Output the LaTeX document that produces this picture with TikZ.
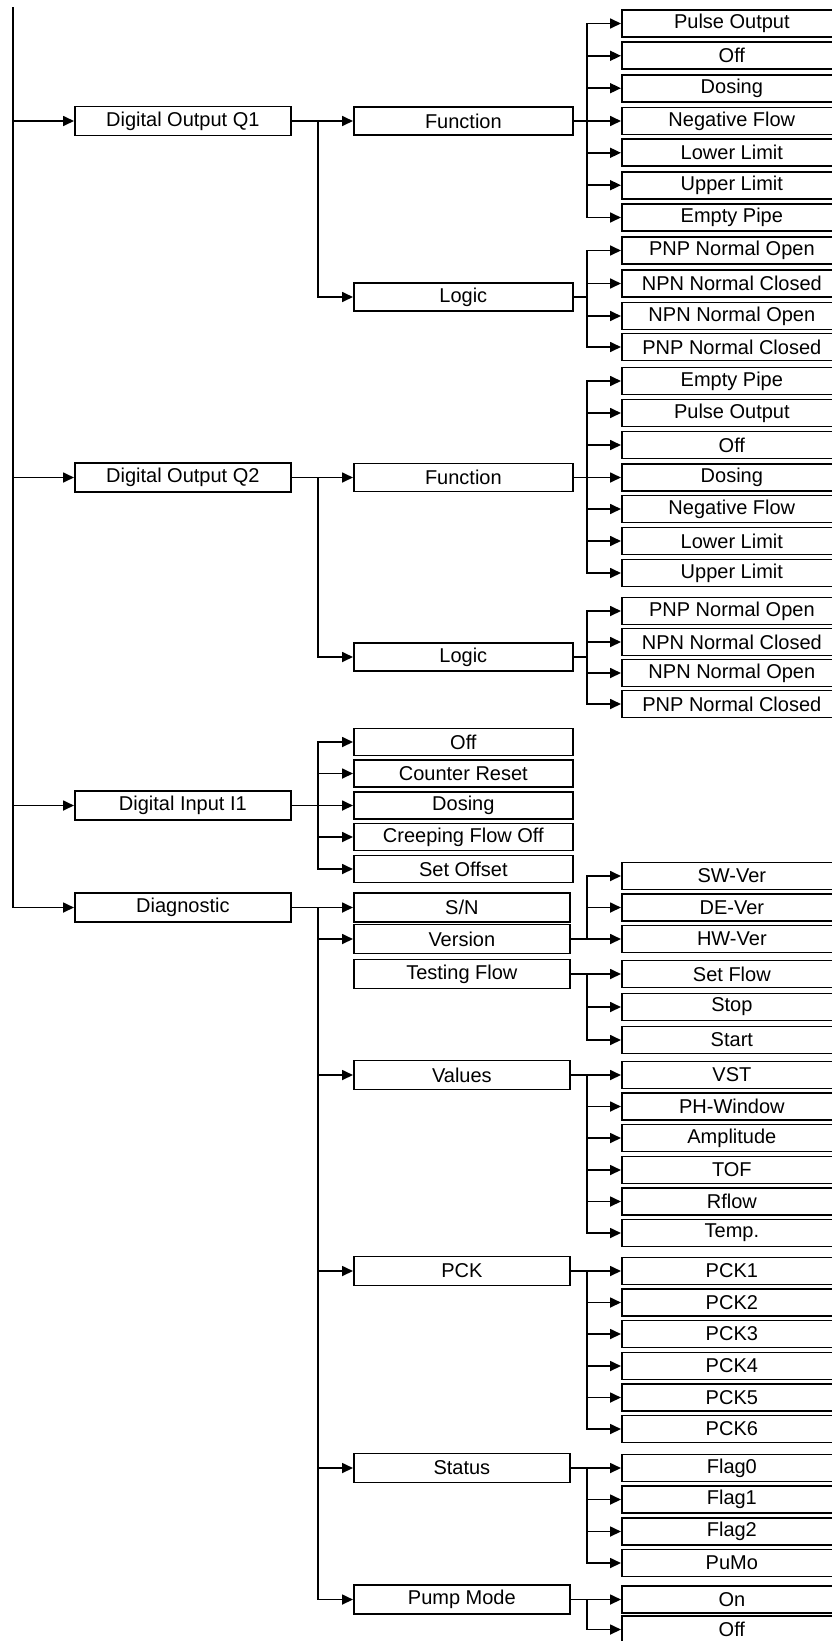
\documentclass[tikz,border=0pt]{standalone}
\usepackage{fontspec}
\setmainfont{Liberation Sans}
\usetikzlibrary{arrows.meta}
\begin{document}
\begin{tikzpicture}[x=1pt,y=-1pt,
  ln/.style={line width=1.7pt},
  arr/.style={line width=1.7pt,-{Triangle[length=11pt,width=10pt]}},
  box/.style={draw,line width=1.7pt,anchor=west,inner sep=0pt,font=\fontsize{20}{20}\selectfont},
  lbox/.style={box,minimum width=216pt,minimum height=29pt},
  mbox/.style={box,minimum width=219pt,minimum height=28pt},
  ibox/.style={box,minimum width=219pt,minimum height=27pt},
  dbox/.style={box,minimum width=216pt,minimum height=29pt},
  leaf/.style={box,minimum width=220pt,minimum height=27pt}]
\useasboundingbox (0,0) rectangle (832,1641);
\clip (0,0) rectangle (832,1641);
\fill[white] (0,0) rectangle (832,1641);
% level 1
\node[lbox] (q1) at (74,121) {Digital Output Q1};
\node[lbox] (q2) at (74,477.5) {Digital Output Q2};
\node[lbox] (i1) at (74,805.5) {Digital Input I1};
\node[lbox] (dg) at (74,907.5) {Diagnostic};
% level 2
\node[mbox] (f1) at (353,121) {Function};
\node[mbox] (l1) at (353,297) {Logic};
\node[mbox] (f2) at (353,477.5) {Function};
\node[mbox] (l2) at (353,657) {Logic};
\node[ibox] (ia) at (353,742) {Off};
\node[ibox] (ib) at (353,773.5) {Counter Reset};
\node[ibox] (ic) at (353,805.5) {Dosing};
\node[ibox] (id) at (353,837) {Creeping Flow Off};
\node[ibox] (ie) at (353,869) {Set Offset};
\node[dbox] (sn) at (353,907.5) {S/N};
\node[dbox] (ver) at (353,939) {Version};
\node[dbox] (tf) at (353,974) {Testing Flow};
\node[dbox] (val) at (353,1075) {Values};
\node[dbox] (pck) at (353,1271) {PCK};
\node[dbox] (st) at (353,1468) {Status};
\node[dbox] (pm) at (353,1599.5) {Pump Mode};
% level 3
\foreach \n/\y/\t in {fa/23.5/Pulse Output, fb/55.8/Off, fc/88.2/Dosing, fd/121/Negative Flow, fe/152.8/Lower Limit, ff/185.2/Upper Limit, fg/217.5/Empty Pipe,
  la/250.5/PNP Normal Open, lb/283.5/NPN Normal Closed, lc/316/NPN Normal Open, ld/347/PNP Normal Closed,
  ga/381/Empty Pipe, gb/413/Pulse Output, gc/445/Off, gd/477.5/Dosing, ge/509/Negative Flow, gf/541/Lower Limit, gg/573/Upper Limit,
  ma/611/PNP Normal Open, mb/642/NPN Normal Closed, mc/673/NPN Normal Open, md/704/PNP Normal Closed,
  va/876/SW-Ver, vb/907.5/DE-Ver, vc/939/HW-Ver,
  ta/974/Set Flow, tb/1007/Stop, tc/1040/Start,
  wa/1075/VST, wb/1106.5/PH-Window, wc/1138/Amplitude, wd/1170/TOF, we/1201.5/Rflow, wf/1233/Temp.,
  pa/1271/PCK1, pb/1302.5/PCK2, pc/1334/PCK3, pd/1366/PCK4, pe/1397.5/PCK5, pf/1429/PCK6,
  sa/1468/Flag0, sb/1499.5/Flag1, sc/1531.5/Flag2, sd/1563/PuMo,
  oa/1599.5/On, ob/1629.5/Off}
  \node[leaf] (\n) at (621,\y) {\t};
% connectors
\coordinate (m) at (13,7);
\coordinate (b1) at (318,0);
\coordinate (b2) at (587,0);
\draw[ln] (m) -- (m |- dg.west);
\foreach \n in {q1,q2,i1,dg} \draw[arr] (m |- \n.west) -- (\n.west);
\foreach \p/\c in {q1/f1, q1/l1, q2/f2, q2/l2, i1/ia, i1/ib, i1/ic, i1/id, i1/ie,
  dg/sn, dg/ver, dg/val, dg/pck, dg/st, dg/pm}
  \draw[arr] (\p.east) -- (b1 |- \p.east) |- (\c.west);
\foreach \p/\c in {f1/fa, f1/fb, f1/fc, f1/fd, f1/fe, f1/ff, f1/fg,
  l1/la, l1/lb, l1/lc, l1/ld,
  f2/ga, f2/gb, f2/gc, f2/gd, f2/ge, f2/gf, f2/gg,
  l2/ma, l2/mb, l2/mc, l2/md,
  ver/va, ver/vb, ver/vc, tf/ta, tf/tb, tf/tc,
  val/wa, val/wb, val/wc, val/wd, val/we, val/wf,
  pck/pa, pck/pb, pck/pc, pck/pd, pck/pe, pck/pf,
  st/sa, st/sb, st/sc, st/sd, pm/oa, pm/ob}
  \draw[arr] (\p.east) -- (b2 |- \p.east) |- (\c.west);
\end{tikzpicture}
\end{document}
